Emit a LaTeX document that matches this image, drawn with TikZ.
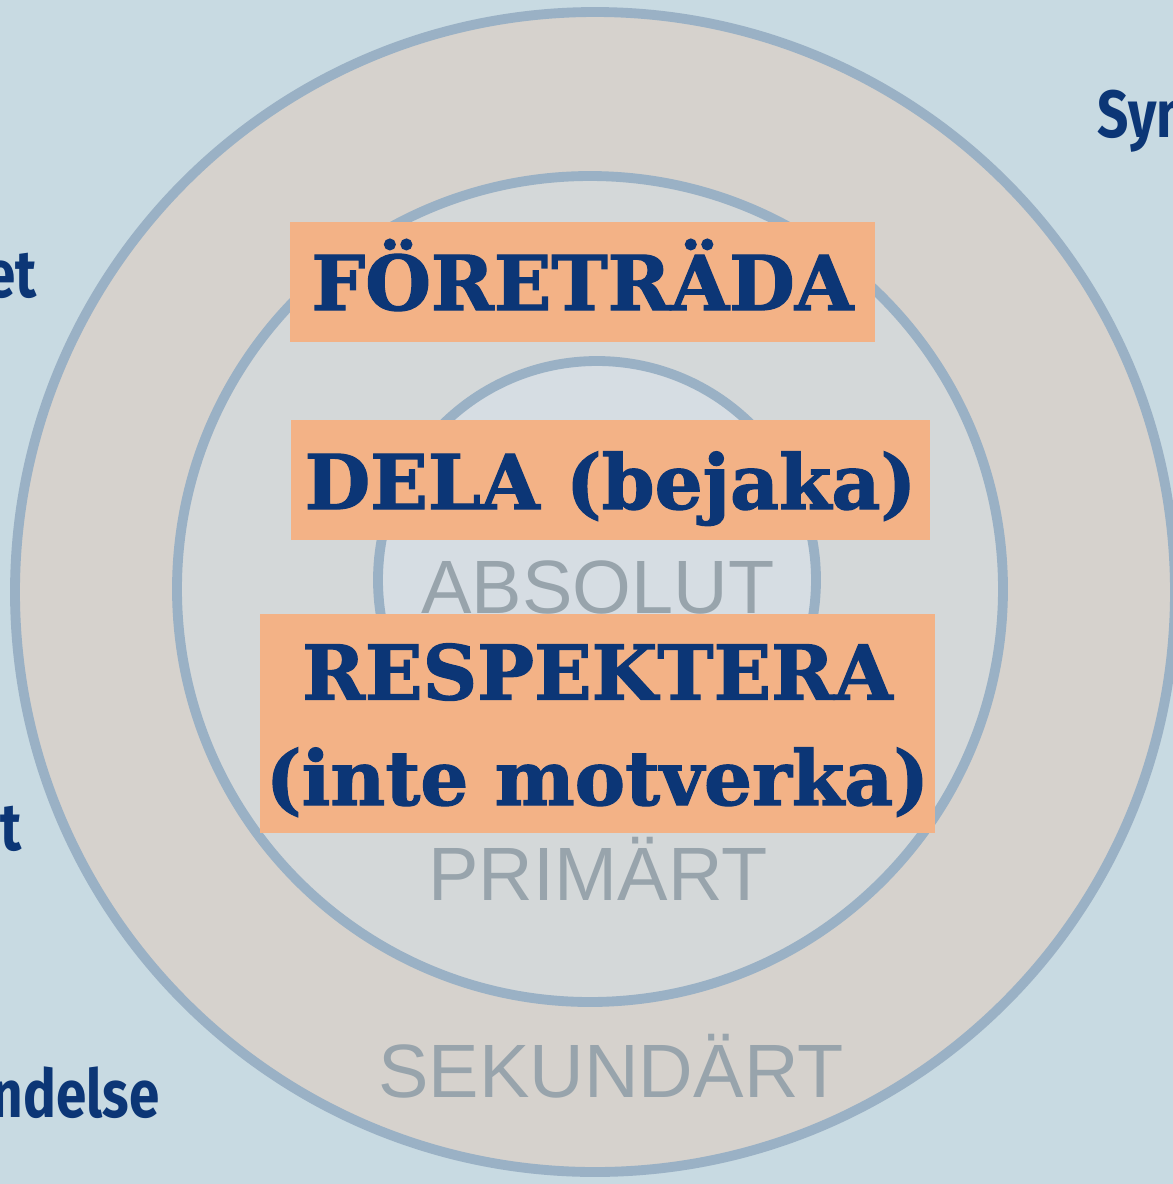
\documentclass[tikz,border=0pt]{standalone}
\usepackage{fontspec}
\setmainfont{DejaVu Serif}
\newfontfamily\levelfont{Liberation Sans}
\newfontfamily\sidefont{Fira Sans}
\usepackage{tikz}

\definecolor{bgblue}{HTML}{C8DAE2}
\definecolor{outerfill}{HTML}{D6D2CD}
\definecolor{midfill}{HTML}{D4D8D9}
\definecolor{innerfill}{HTML}{D6DDE3}
\definecolor{ringline}{HTML}{9AB1C5}
\definecolor{boxfill}{HTML}{F3B286}
\definecolor{navy}{HTML}{0C3676}
\definecolor{levelgrey}{HTML}{98A4AC}

\begin{document}
\begin{tikzpicture}[x=0.01cm,y=-0.01cm,
   ring/.style={draw=ringline,line width=2.8pt},
   box/.style={rectangle,fill=boxfill,inner sep=0pt,text=navy,
    font=\fontsize{21.5}{30}\selectfont\bfseries\addfontfeature{FakeBold=1.6},
    align=center},
   level/.style={inner sep=0pt,text=levelgrey,
    font=\levelfont\fontsize{21.5}{25}\selectfont},
   side/.style={inner sep=0pt,text=navy,xscale=0.82,transform shape,
    font=\sidefont\bfseries\fontsize{19}{22}\selectfont}
    ]

  % -- frame
  \fill[bgblue] (0,0) rectangle (1173,1184);
  \useasboundingbox (0,0) rectangle (1173,1184);
  \clip (0,0) rectangle (1173,1184);

  % -- rings
  \filldraw[ring,fill=outerfill] (595,592) circle[radius=580];
  \filldraw[ring,fill=midfill] (590,589) circle[radius=413];
  \filldraw[ring,fill=innerfill] (597,580) circle[radius=219];

  % -- levels
  \node[level,anchor=base] at (598,613) (absolut) {ABSOLUT};
  \node[level,anchor=base] at (598,900) (primart) {PRIMÄRT};
  \node[level,anchor=base] at (611,1097) (sekundart) {SEKUNDÄRT};

  % -- boxes
  \node[box,minimum width=5.85cm,minimum height=1.2cm,
    text height=0.56cm,text depth=0pt] at (582.5,282) (foretrada) {FÖRETRÄDA};
  \node[box,minimum width=6.39cm,minimum height=1.2cm,
    text height=0.58cm,text depth=0pt] at (610.5,480) (dela) {DELA (bejaka)};
  \node[box,minimum width=6.75cm,minimum height=2.19cm,
    text height=1.63cm,text depth=0pt] at (597.5,723.5) (respektera)
    {RESPEKTERA\\(inte motverka)};

  % -- side words
  \node[side,anchor=base east] at (37,297) (sideA) {et};
  \node[side,anchor=base east] at (22,850) (sideB) {st};
  \node[side,anchor=base east] at (160,1117) (sideC) {ndelse};
  \node[side,anchor=base west] at (1097,137) (sideD) {Sym};
\end{tikzpicture}
\end{document}
